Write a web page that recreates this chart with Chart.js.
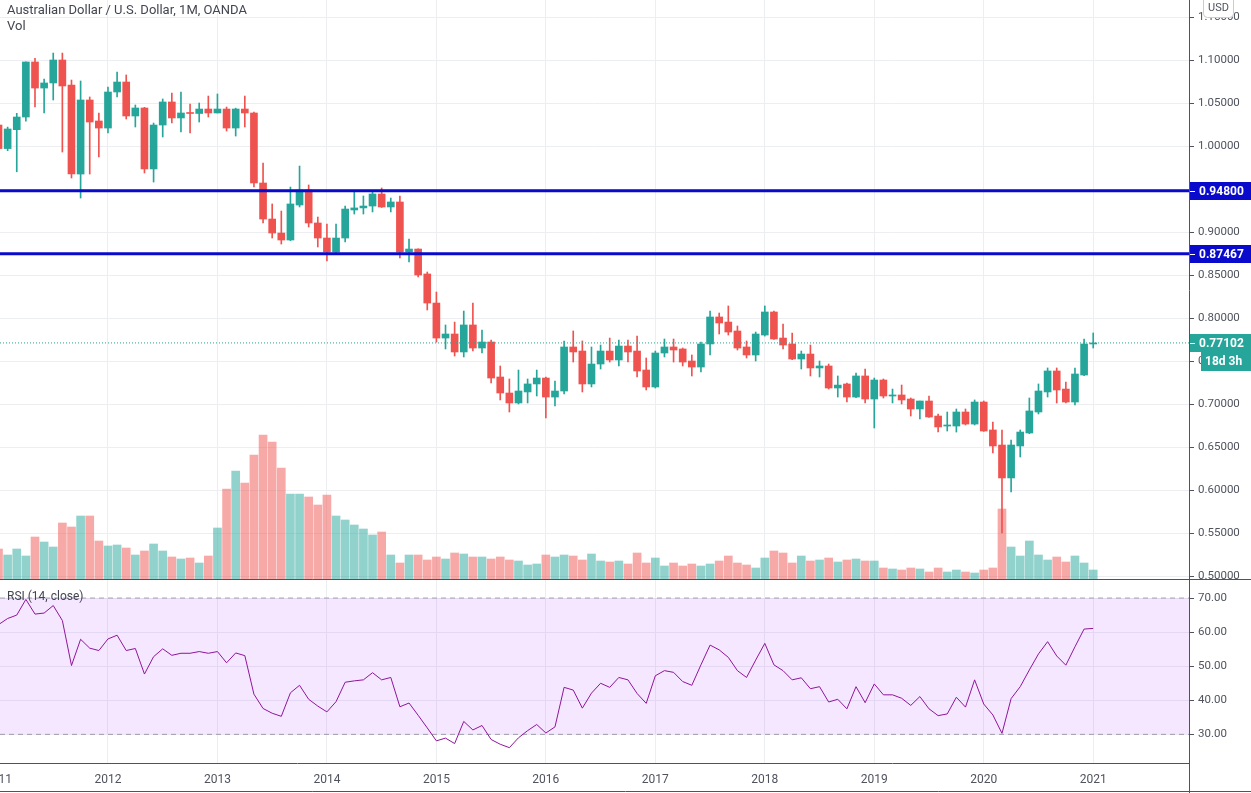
<!DOCTYPE html>
<html>
<head>
<meta charset="utf-8">
<title>AUDUSD 1M</title>
<script src="https://cdn.jsdelivr.net/npm/chart.js@4.4.1/dist/chart.umd.min.js"></script>
<style>
  body { margin: 0; background: #fff; overflow: hidden; }
  #wrap { position: relative; width: 1251px; height: 793px; }
  #pricePane { position: absolute; left: 0; top: 0; width: 1251px; height: 580px; }
  #rsiPane { position: absolute; left: 0; top: 580px; width: 1251px; height: 213px; }
</style>
</head>
<body>
<div id="wrap">
  <div id="pricePane"><canvas id="priceChart"></canvas></div>
  <div id="rsiPane"><canvas id="rsiChart"></canvas></div>
</div>
<script>
// monthly AUD/USD candles, index 0 = Jan 2011 ... index 120 = Jan 2021
var years = [2011, 2012, 2013, 2014, 2015, 2016, 2017, 2018, 2019, 2020, 2021];

var opens = [1.0244, 0.9970, 1.0190, 1.0337, 1.0977, 1.0674, 1.0733, 1.1000, 1.0709, 0.9674,
    1.0535, 1.0291, 1.0209, 1.0628, 1.0744, 1.0349, 1.0442, 0.9733, 1.0244, 1.0512,
    1.0326, 1.0384, 1.0378, 1.0430, 1.0384, 1.0430, 1.0209, 1.0430, 1.0384, 0.9570,
    0.9151, 0.8988, 0.8907, 0.9314, 0.9488, 0.9105, 0.8930, 0.8767, 0.8930, 0.9256,
    0.9280, 0.9302, 0.9442, 0.9291, 0.9349, 0.8767, 0.8802, 0.8512, 0.8174, 0.7767,
    0.7814, 0.7605, 0.7919, 0.7651, 0.7721, 0.7314, 0.7128, 0.7012, 0.7140, 0.7233,
    0.7302, 0.7081, 0.7151, 0.7663, 0.7616, 0.7233, 0.7465, 0.7616, 0.7512, 0.7674,
    0.7616, 0.7395, 0.7198, 0.7593, 0.7663, 0.7640, 0.7500, 0.7430, 0.7698, 0.8012,
    0.7953, 0.7849, 0.7663, 0.7570, 0.7802, 0.8070, 0.7767, 0.7698, 0.7523, 0.7581,
    0.7419, 0.7442, 0.7186, 0.7233, 0.7081, 0.7326, 0.7058, 0.7279, 0.7093, 0.7105,
    0.7058, 0.6942, 0.7035, 0.6860, 0.6744, 0.6744, 0.6907, 0.6767, 0.7023, 0.6698,
    0.6523, 0.6140, 0.6512, 0.6663, 0.6907, 0.7140, 0.7384, 0.7174, 0.7023, 0.7337,
    0.7698];

var highs = [1.0265, 1.0220, 1.0380, 1.0980, 1.1020, 1.0779, 1.1081, 1.1081, 1.0767, 1.0756,
    1.0570, 1.0384, 1.0686, 1.0860, 1.0826, 1.0477, 1.0450, 1.0267, 1.0547, 1.0616,
    1.0628, 1.0488, 1.0500, 1.0581, 1.0605, 1.0453, 1.0440, 1.0581, 1.0395, 0.9802,
    0.9326, 0.9244, 0.9523, 0.9767, 0.9547, 0.9174, 0.9093, 0.9093, 0.9302, 0.9465,
    0.9419, 0.9465, 0.9512, 0.9395, 0.9419, 0.8919, 0.8805, 0.8535, 0.8302, 0.7919,
    0.7953, 0.8081, 0.8174, 0.7860, 0.7744, 0.7442, 0.7291, 0.7395, 0.7291, 0.7395,
    0.7314, 0.7267, 0.7733, 0.7849, 0.7733, 0.7663, 0.7686, 0.7767, 0.7744, 0.7744,
    0.7791, 0.7535, 0.7616, 0.7756, 0.7756, 0.7651, 0.7570, 0.7721, 0.8081, 0.8058,
    0.8140, 0.7907, 0.7733, 0.7837, 0.8140, 0.8081, 0.7930, 0.7826, 0.7616, 0.7686,
    0.7500, 0.7465, 0.7326, 0.7244, 0.7360, 0.7407, 0.7302, 0.7291, 0.7174, 0.7221,
    0.7070, 0.7035, 0.7093, 0.6884, 0.6907, 0.6942, 0.6942, 0.7047, 0.7035, 0.6791,
    0.6698, 0.6581, 0.6698, 0.7070, 0.7233, 0.7419, 0.7419, 0.7256, 0.7419, 0.7756,
    0.7826];

var lows = [0.9880, 0.9945, 0.9700, 1.0290, 1.0453, 1.0384, 1.0535, 0.9930, 0.9628, 0.9395,
    0.9674, 0.9872, 1.0151, 1.0570, 1.0314, 1.0221, 0.9686, 0.9581, 1.0105, 1.0267,
    1.0163, 1.0151, 1.0279, 1.0337, 1.0384, 1.0174, 1.0116, 1.0221, 0.9523, 0.9105,
    0.8930, 0.8860, 0.8900, 0.9291, 0.9058, 0.8826, 0.8663, 0.8760, 0.8884, 0.9209,
    0.9209, 0.9233, 0.9285, 0.9233, 0.8698, 0.8651, 0.8477, 0.8093, 0.7720, 0.7640,
    0.7558, 0.7547, 0.7616, 0.7593, 0.7244, 0.7047, 0.6907, 0.7000, 0.7012, 0.7093,
    0.6837, 0.6977, 0.7116, 0.7488, 0.7140, 0.7198, 0.7407, 0.7488, 0.7442, 0.7488,
    0.7314, 0.7163, 0.7186, 0.7547, 0.7488, 0.7442, 0.7326, 0.7372, 0.7570, 0.7814,
    0.7802, 0.7628, 0.7535, 0.7500, 0.7790, 0.7750, 0.7640, 0.7515, 0.7407, 0.7326,
    0.7314, 0.7174, 0.7081, 0.7023, 0.7075, 0.7012, 0.6721, 0.7070, 0.7012, 0.7000,
    0.6860, 0.6826, 0.6845, 0.6674, 0.6686, 0.6674, 0.6756, 0.6756, 0.6682, 0.6430,
    0.5500, 0.5977, 0.6384, 0.6655, 0.6884, 0.7081, 0.7012, 0.7012, 0.6988, 0.7330,
    0.7651];

var closes = [0.9970, 1.0198, 1.0337, 1.0977, 1.0674, 1.0733, 1.1000, 1.0698, 0.9674, 1.0535,
    1.0279, 1.0209, 1.0628, 1.0744, 1.0349, 1.0442, 0.9733, 1.0244, 1.0512, 1.0326,
    1.0384, 1.0378, 1.0430, 1.0384, 1.0430, 1.0209, 1.0430, 1.0384, 0.9570, 0.9151,
    0.8988, 0.8907, 0.9326, 0.9488, 0.9105, 0.8930, 0.8767, 0.8930, 0.9267, 0.9280,
    0.9302, 0.9442, 0.9291, 0.9349, 0.8767, 0.8802, 0.8500, 0.8174, 0.7767, 0.7814,
    0.7605, 0.7919, 0.7651, 0.7721, 0.7302, 0.7128, 0.7012, 0.7151, 0.7233, 0.7302,
    0.7081, 0.7151, 0.7663, 0.7605, 0.7233, 0.7465, 0.7616, 0.7512, 0.7674, 0.7605,
    0.7384, 0.7198, 0.7593, 0.7663, 0.7628, 0.7488, 0.7430, 0.7698, 0.8012, 0.7942,
    0.7837, 0.7651, 0.7570, 0.7814, 0.8070, 0.7756, 0.7686, 0.7523, 0.7581, 0.7419,
    0.7442, 0.7186, 0.7220, 0.7081, 0.7326, 0.7058, 0.7279, 0.7093, 0.7105, 0.7047,
    0.6942, 0.7035, 0.6849, 0.6733, 0.6756, 0.6907, 0.6767, 0.7023, 0.6686, 0.6512,
    0.6140, 0.6523, 0.6674, 0.6919, 0.7151, 0.7384, 0.7163, 0.7023, 0.7349, 0.7698,
    0.7710];

// volume, thousands
var volumes = [31, 25, 31, 24, 43, 38, 33, 57, 53, 64,
    64, 39, 34, 35, 32, 25, 29, 36, 29, 23,
    21, 22, 17, 24, 52, 91, 109, 97, 125, 145,
    138, 112, 86, 86, 83, 75, 85, 64, 60, 55,
    51, 45, 48, 25, 17, 25, 25, 20, 23, 21,
    27, 26, 23, 23, 21, 23, 20, 19, 15, 16,
    25, 23, 25, 24, 20, 26, 19, 18, 19, 16,
    27, 17, 22, 14, 17, 14, 16, 14, 16, 19,
    24, 17, 15, 12, 22, 29, 27, 17, 24, 19,
    20, 22, 18, 20, 21, 19, 19, 12, 11, 10,
    12, 11, 8, 12, 8, 10, 8, 7, 10, 12,
    71, 33, 24, 39, 25, 20, 23, 18, 24, 17,
    10];

// RSI (14, close)
var rsi = [62.2, 64.0, 65.0, 69.6, 65.3, 65.6, 67.8, 63.4, 50.2, 57.9,
    55.3, 54.6, 58.0, 59.1, 54.6, 55.2, 47.7, 52.8, 55.1, 53.2,
    53.8, 53.8, 54.3, 53.8, 54.3, 51.0, 53.9, 53.1, 41.8, 37.6,
    36.2, 35.3, 42.2, 44.4, 40.3, 38.3, 36.6, 39.6, 45.3, 45.7,
    46.0, 48.1, 46.0, 46.7, 38.1, 39.2, 35.6, 31.9, 28.1, 28.9,
    27.3, 33.8, 31.3, 32.6, 28.5, 27.1, 26.1, 29.0, 31.1, 32.9,
    30.4, 32.2, 43.8, 43.0, 37.7, 42.1, 45.0, 43.8, 46.7, 46.0,
    42.0, 39.1, 47.2, 48.7, 48.2, 45.5, 44.4, 50.4, 56.2, 54.8,
    52.6, 48.7, 46.7, 51.8, 56.7, 50.4, 48.7, 46.0, 46.6, 43.4,
    44.0, 39.5, 40.3, 37.5, 44.0, 39.3, 44.8, 41.6, 41.6, 40.6,
    38.5, 41.1, 37.5, 35.5, 36.0, 40.9, 38.0, 46.0, 38.9, 35.7,
    30.3, 40.5, 44.0, 48.9, 53.6, 57.2, 53.0, 50.3, 55.7, 60.9,
    61.1];

var levels = [0.94800, 0.87467];
var lastPrice = 0.77102;
var timeLeft = '18d 3h';
var rsiBands = [70, 30];

var upColor = '#26a69a';
var downColor = '#ef5350';
var levelColor = '#0a0acc';
var gridColor = '#eceef2';
var axisColor = '#50535e';
var textColor = '#50535e';
var fontFamily = "Roboto, 'Noto Sans', sans-serif";

// visible window (months) and value ranges of the panes
var xMin = 0.164, xMax = 130.5;
var priceMin = 0.49535, priceMax = 1.16977;
var rsiMin = 21.6, rsiMax = 75.3;

Chart.defaults.font.family = fontFamily;
Chart.defaults.animation = false;

var bodies = [], wicks = [], vols = [], candleColors = [], volColors = [];
for (var i = 0; i < opens.length; i++) {
    var up = closes[i] >= opens[i];
    bodies.push({ x: i, y: [opens[i], closes[i]] });
    wicks.push({ x: i, y: [lows[i], highs[i]] });
    vols.push({ x: i, y: volumes[i] });
    candleColors.push(up ? upColor : downColor);
    volColors.push(up ? 'rgba(38,166,154,0.5)' : 'rgba(239,83,80,0.5)');
}
var rsiPoints = rsi.map(function (v, k) { return { x: k, y: v }; });

function flatLine(value) {
    return [{ x: xMin, y: value }, { x: xMax, y: value }];
}

function timeAxis(showLabels) {
    return {
        type: 'linear',
        min: xMin,
        max: xMax,
        offset: false,
        afterBuildTicks: function (scale) {
            scale.ticks = years.map(function (yr, k) { return { value: k * 12 }; });
        },
        afterFit: function (scale) {
            scale.paddingLeft = 0;
            scale.paddingRight = 0;
            scale.height = showLabels ? 30 : 0;
        },
        grid: { color: gridColor, drawTicks: false, offset: false },
        border: { display: showLabels, color: axisColor },
        ticks: {
            display: showLabels,
            autoSkip: false,
            maxRotation: 0,
            padding: 10,
            color: textColor,
            font: { size: 12 },
            callback: function (value) { return years[value / 12]; }
        }
    };
}

function valueAxis(min, max, step, digits) {
    return {
        position: 'right',
        min: min,
        max: max,
        afterFit: function (scale) {
            scale.width = 62;
            scale.paddingTop = 0;
            scale.paddingBottom = 0;
        },
        grid: { color: gridColor, tickLength: 5, tickColor: axisColor },
        border: { color: axisColor },
        ticks: {
            stepSize: step,
            includeBounds: false,
            padding: 4,
            color: textColor,
            font: { size: 11.5 },
            callback: function (value) { return value.toFixed(digits); }
        }
    };
}

function badge(ctx, left, right, yc, text, color) {
    ctx.fillStyle = color;
    ctx.fillRect(left, Math.round(yc) - 9, right - left, 18);
    ctx.strokeStyle = '#fff';
    ctx.lineWidth = 1;
    ctx.beginPath();
    ctx.moveTo(left, Math.round(yc) + 0.5);
    ctx.lineTo(left + 5, Math.round(yc) + 0.5);
    ctx.stroke();
    ctx.fillStyle = '#fff';
    ctx.font = 'bold 12px ' + fontFamily;
    ctx.textAlign = 'left';
    ctx.textBaseline = 'middle';
    ctx.fillText(text, left + 9, Math.round(yc) + 0.5);
}

var pricePanePlugin = {
    id: 'pricePane',
    afterDraw: function (chart) {
        var ctx = chart.ctx;
        var area = chart.chartArea;
        var yScale = chart.scales.y;
        ctx.save();

        ctx.fillStyle = '#434651';
        ctx.font = '13px ' + fontFamily;
        ctx.textAlign = 'left';
        ctx.textBaseline = 'middle';
        ctx.fillText('Australian Dollar / U.S. Dollar, 1M, OANDA', 7, 11);
        ctx.fillText('Vol', 7, 27);

        // pane separator
        ctx.strokeStyle = axisColor;
        ctx.lineWidth = 1;
        ctx.beginPath();
        ctx.moveTo(0, area.bottom - 0.5);
        ctx.lineTo(chart.width, area.bottom - 0.5);
        ctx.stroke();

        levels.forEach(function (lv) {
            badge(ctx, area.right + 1, chart.width, yScale.getPixelForValue(lv), lv.toFixed(5), levelColor);
        });
        var yLast = yScale.getPixelForValue(lastPrice);
        badge(ctx, area.right + 1, chart.width, yLast, lastPrice.toFixed(5), upColor);

        ctx.fillStyle = upColor;
        ctx.fillRect(area.right + 12, Math.round(yLast) + 9, chart.width - area.right - 12, 19);
        ctx.fillStyle = '#fff';
        ctx.font = 'bold 12px ' + fontFamily;
        ctx.fillText(timeLeft, area.right + 16, Math.round(yLast) + 19);

        // currency box
        ctx.fillStyle = '#fff';
        ctx.strokeStyle = '#c9ccd3';
        ctx.beginPath();
        ctx.roundRect(area.right + 14.5, -4.5, 30, 22, 4);
        ctx.fill();
        ctx.stroke();
        ctx.fillStyle = textColor;
        ctx.font = '11px ' + fontFamily;
        ctx.textAlign = 'center';
        ctx.fillText('USD', area.right + 29.5, 8);

        ctx.restore();
    }
};

var rsiPanePlugin = {
    id: 'rsiPane',
    afterDraw: function (chart) {
        var ctx = chart.ctx;
        var area = chart.chartArea;
        ctx.save();
        ctx.fillStyle = '#434651';
        ctx.font = '12px ' + fontFamily;
        ctx.textAlign = 'left';
        ctx.textBaseline = 'middle';
        ctx.fillText('RSI (14, close)', 7, 17);

        ctx.strokeStyle = axisColor;
        ctx.lineWidth = 1;
        ctx.beginPath();
        ctx.moveTo(area.right + 0.5, area.bottom);
        ctx.lineTo(area.right + 0.5, chart.height);
        ctx.moveTo(0, chart.height - 1.5);
        ctx.lineTo(chart.width, chart.height - 1.5);
        ctx.stroke();
        ctx.restore();
    }
};

var priceVolAxis = {
    display: false,
    min: 0,
    max: Math.max.apply(null, volumes) / 0.25
};

var priceChart = new Chart(document.getElementById('priceChart').getContext('2d'), {
    type: 'bar',
    data: {
        datasets: [
            {
                type: 'line', label: 'level 1', data: flatLine(levels[0]),
                borderColor: levelColor, borderWidth: 3, pointRadius: 0, order: 0
            },
            {
                type: 'line', label: 'level 2', data: flatLine(levels[1]),
                borderColor: levelColor, borderWidth: 3, pointRadius: 0, order: 0
            },
            {
                type: 'line', label: 'last', data: flatLine(lastPrice),
                borderColor: upColor, borderWidth: 1, borderDash: [1, 2], pointRadius: 0, order: 0
            },
            {
                label: 'body', data: bodies, backgroundColor: candleColors,
                barThickness: 7, minBarLength: 1, grouped: false, order: 1
            },
            {
                label: 'wick', data: wicks, backgroundColor: candleColors,
                barThickness: 1, grouped: false, order: 2
            },
            {
                label: 'Vol', data: vols, yAxisID: 'yVol', backgroundColor: volColors,
                barThickness: 8, grouped: false, order: 3
            }
        ]
    },
    options: {
        responsive: true,
        maintainAspectRatio: false,
        events: [],
        layout: { padding: 0 },
        plugins: { legend: { display: false }, tooltip: { enabled: false } },
        scales: {
            x: timeAxis(false),
            y: valueAxis(priceMin, priceMax, 0.05, 5),
            yVol: priceVolAxis
        }
    },
    plugins: [pricePanePlugin]
});

var rsiChart = new Chart(document.getElementById('rsiChart').getContext('2d'), {
    type: 'line',
    data: {
        datasets: [
            {
                label: 'RSI', data: rsiPoints, borderColor: '#8e1599', borderWidth: 1,
                pointRadius: 0, tension: 0, fill: false
            },
            {
                label: 'upper', data: flatLine(rsiBands[0]), borderColor: '#9fa2aa', borderWidth: 1,
                borderDash: [5, 4], pointRadius: 0, fill: '+1', backgroundColor: 'rgba(153,21,255,0.1)'
            },
            {
                label: 'lower', data: flatLine(rsiBands[1]), borderColor: '#9fa2aa', borderWidth: 1,
                borderDash: [5, 4], pointRadius: 0, fill: false
            }
        ]
    },
    options: {
        responsive: true,
        maintainAspectRatio: false,
        events: [],
        layout: { padding: 0 },
        plugins: { legend: { display: false }, tooltip: { enabled: false } },
        scales: {
            x: timeAxis(true),
            y: valueAxis(rsiMin, rsiMax, 10, 2)
        }
    },
    plugins: [rsiPanePlugin]
});
</script>
</body>
</html>
